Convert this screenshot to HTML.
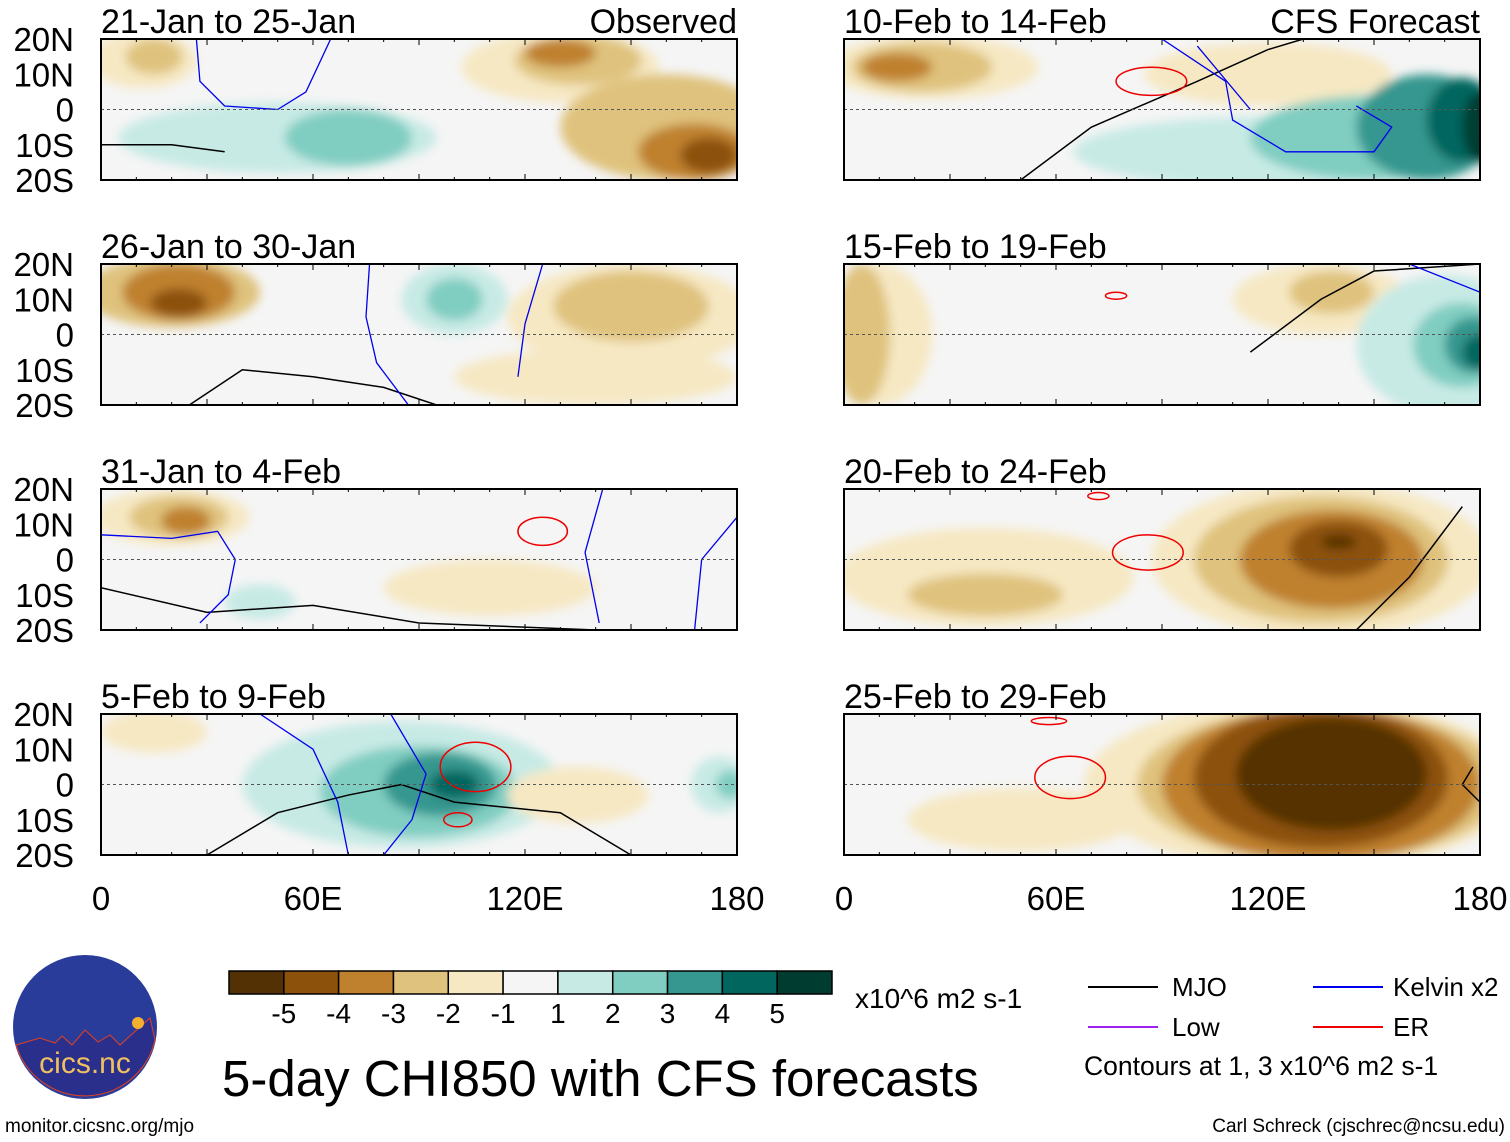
<!DOCTYPE html>
<html><head><meta charset="utf-8">
<style>
html,body{margin:0;padding:0;background:#fff;}
svg{display:block;font-family:"Liberation Sans",sans-serif;}
</style></head>
<body>
<svg id="fig" width="1510" height="1142" viewBox="0 0 1510 1142" xmlns="http://www.w3.org/2000/svg">
<defs>
<filter id="blur" x="-50%" y="-50%" width="200%" height="200%"><feGaussianBlur stdDeviation="5"/></filter>
</defs>
<g id="panels"></g>
<g id="colorbar"></g>
<text x="855" y="1008" font-size="28">x10^6 m2 s-1</text>
<text x="222" y="1096" font-size="51">5-day CHI850 with CFS forecasts</text>
<g>
<line x1="1088" y1="987" x2="1158" y2="987" stroke="#000" stroke-width="2"/>
<text x="1172" y="996" font-size="26">MJO</text>
<line x1="1313" y1="987" x2="1383" y2="987" stroke="#0000ee" stroke-width="2"/>
<text x="1393" y="996" font-size="26">Kelvin x2</text>
<line x1="1088" y1="1027" x2="1158" y2="1027" stroke="#a020f0" stroke-width="2"/>
<text x="1172" y="1036" font-size="26">Low</text>
<line x1="1313" y1="1027" x2="1383" y2="1027" stroke="#ee0000" stroke-width="2"/>
<text x="1393" y="1036" font-size="26">ER</text>
<text x="1084" y="1075" font-size="26.5">Contours at 1, 3 x10^6 m2 s-1</text>
</g>
<g>
<circle cx="85" cy="1027" r="72" fill="#2a3c9a"/>
<path d="M16,1045 L40,1038 L55,1043 L62,1036 L72,1045 L85,1030 L98,1042 L110,1035 L120,1045 L150,1018 L155,1040 A72,72 0 0 1 16,1045 Z" fill="#2a2f8c" stroke="#e04020" stroke-width="1"/>
<circle cx="138" cy="1023" r="6" fill="#f5b030"/>
<text x="85" y="1073" font-size="30" fill="#f0c060" text-anchor="middle">cics.nc</text>
</g>
<text x="5" y="1132" font-size="19">monitor.cicsnc.org/mjo</text>
<text x="1505" y="1132" font-size="19" text-anchor="end">Carl Schreck (cjschrec@ncsu.edu)</text>
</svg>
<script>
// Colorbar data
const levelLabels = ["-5","-4","-3","-2","-1","1","2","3","4","5"];
const levelColors = ["#543005","#8c510a","#bf812d","#dfc27d","#f6e8c3","#f5f5f5","#c7eae5","#80cdc1","#35978f","#01665e","#003c30"];
const latTicks = ["20N","10N","0","10S","20S"];
const latTickVals = [20,10,0,-10,-20];
const lonTicks = ["0","60E","120E","180"];
const lonTickVals = [0,60,120,180];
const panelTitles = ["21-Jan to 25-Jan","26-Jan to 30-Jan","31-Jan to 4-Feb","5-Feb to 9-Feb","10-Feb to 14-Feb","15-Feb to 19-Feb","20-Feb to 24-Feb","25-Feb to 29-Feb"];
// anomaly blobs per panel: [lon, lat, halfwidthDeg, halfheightDeg, value]
const anomP1 = [[12,14,15,8,-1],[15,15,8,5,-2],[50,-8,45,10,1],[70,-8,18,8,2],[130,12,28,10,-1],[135,14,18,7,-2],[130,16,10,4,-3],[160,-5,30,15,-2],[168,-12,16,8,-3],[172,-13,8,5,-4]];
const anomP2 = [[20,12,25,10,-2],[22,12,16,8,-3],[22,9,8,4,-4],[100,10,15,10,1],[100,10,8,6,2],[150,5,35,15,-1],[150,8,22,10,-2],[140,-12,40,8,-1]];
const anomP3 = [[20,12,22,8,-1],[22,12,14,6,-2],[24,11,7,4,-3],[45,-12,10,5,1],[110,-8,30,8,-1]];
const anomP4 = [[15,15,15,6,-1],[85,0,45,18,1],[90,-2,28,13,2],[96,0,16,9,3],[100,0,7,4,4],[135,-3,20,8,-1],[175,0,8,8,1],[178,0,4,4,2]];
const anomP5 = [[25,12,30,9,-1],[22,12,20,7,-2],[15,12,10,4,-3],[120,10,35,9,-1],[120,-12,55,10,1],[150,-8,35,12,2],[165,-5,20,15,3],[175,-3,10,12,4],[180,-5,5,10,5]];
const anomP6 = [[10,0,15,20,-1],[5,0,8,20,-2],[135,10,25,10,-1],[138,12,12,6,-2],[170,-3,25,20,1],[175,-3,14,12,2],[178,-3,8,8,3],[180,-5,5,5,4]];
const anomP7 = [[40,-5,42,14,-1],[40,-10,22,6,-2],[135,0,48,22,-1],[135,0,36,18,-2],[138,0,26,14,-3],[140,3,14,8,-4],[140,5,5,2,-5]];
const anomP8 = [[50,-10,32,9,-1],[130,0,62,24,-1],[135,0,52,22,-2],[135,0,45,22,-3],[135,2,36,20,-4],[138,3,27,16,-5]];
const panelAnoms = [anomP1,anomP2,anomP3,anomP4,anomP5,anomP6,anomP7,anomP8];
// MJO contour paths per panel: [lon, lat] points
const mjoLines = [
 [[0,-10],[20,-10],[35,-12]],
 [[25,-20],[40,-10],[60,-12],[80,-15],[95,-20]],
 [[0,-8],[30,-15],[60,-13],[90,-18],[140,-20]],
 [[30,-20],[50,-8],[70,-3],[85,0],[100,-5],[130,-8],[150,-20]],
 [[50,-20],[70,-5],[100,8],[120,17],[130,20]],
 [[115,-5],[135,10],[150,18],[180,20]],
 [[145,-20],[160,-5],[175,15]],
 [[180,-5],[175,0],[178,5]]
];
// Kelvin contour paths per panel
const kelvinLines = [
 [[[27,20],[28,8],[35,1],[50,0],[58,5],[65,20]]],
 [[[76,20],[75,5],[78,-8],[87,-20]],[[125,20],[120,3],[118,-12]]],
 [[[0,7],[20,6],[33,8],[38,0],[36,-10],[28,-18]],[[142,20],[137,2],[141,-18]],[[180,12],[170,0],[168,-20]]],
 [[[45,20],[60,10],[67,-5],[70,-20]],[[82,20],[92,3],[88,-10],[80,-20]]],
 [[[90,20],[108,8],[110,-3],[125,-12],[150,-12],[155,-5],[145,1]],[[100,18],[115,0]]],
 [[[160,20],[180,12]]],
 [],
 []
];
// ER contour ellipses per panel: [lon, lat, halfwidthDeg, halfheightDeg]
const erRings = [
 [],[],
 [[125,8,7,4]],
 [[106,5,10,7],[101,-10,4,2]],
 [[87,8,10,4]],
 [[77,11,3,1]],
 [[86,2,10,5],[72,18,3,1]],
 [[64,2,10,6],[58,18,5,1]]
];

function colorFor(v){ const idx = v<0 ? Math.max(0,5+v) : Math.min(10,5+v); return levelColors[idx]; }
const W=636,H=141;
const panelPos=[[101,39],[101,264],[101,489],[101,714],[844,39],[844,264],[844,489],[844,714]];
const NS="http://www.w3.org/2000/svg";
function mk(tag,attrs,parent){const e=document.createElementNS(NS,tag);for(const k in attrs)e.setAttribute(k,attrs[k]);if(parent)parent.appendChild(e);return e;}
const root=document.getElementById('panels');
panelPos.forEach((p,i)=>{
  const [x0,y0]=p;
  const xs=lon=>x0+lon/180*W;
  const ys=lat=>y0+(20-lat)/40*H;
  const g=mk('g',{},root);
  
  
  const cp=mk('clipPath',{id:'cp'+i},g);
  mk('rect',{x:x0,y:y0,width:W,height:H},cp);
  const bg=mk('rect',{x:x0,y:y0,width:W,height:H,fill:'#f5f5f5'},g);
  
  
  const fg=mk('g',{'clip-path':'url(#cp'+i+')'},g);
  const bl=mk('g',{filter:'url(#blur)'},fg);
  panelAnoms[i].forEach(a=>{
    const e=mk('ellipse',{cx:xs(a[0]),cy:ys(a[1]),rx:a[2]/180*W,ry:a[3]/40*H,fill:colorFor(a[4])},bl);
    
    
  });
  const pts=mjoLines[i].map(q=>xs(q[0])+','+ys(q[1])).join(' ');
  const ml=mk('polyline',{points:pts,fill:'none',stroke:'#000','stroke-width':1.5},fg);
  
  
  kelvinLines[i].forEach(line=>{
    const kl=mk('polyline',{points:line.map(q=>xs(q[0])+','+ys(q[1])).join(' '),fill:'none',stroke:'#0000ee','stroke-width':1.3},fg);
    
    
  });
  erRings[i].forEach(r=>{
    const er=mk('ellipse',{cx:xs(r[0]),cy:ys(r[1]),rx:r[2]/180*W,ry:r[3]/40*H,fill:'none',stroke:'#ee0000','stroke-width':1.5},fg);
    
    
  });
  const eq=mk('line',{x1:x0,y1:ys(0),x2:x0+W,y2:ys(0),stroke:'#555','stroke-dasharray':'3,3','stroke-width':1},g);
  
  
  const fr=mk('rect',{x:x0,y:y0,width:W,height:H,fill:'none',stroke:'#000','stroke-width':2},g);
  
  
  for(let l=0;l<=180;l+=10){
    const len=(l%30===0)?6:3;
    mk('line',{x1:xs(l),y1:y0+H,x2:xs(l),y2:y0+H-len,stroke:'#000'},g);
    mk('line',{x1:xs(l),y1:y0,x2:xs(l),y2:y0+len,stroke:'#000'},g);
  }
  const t=mk('text',{x:x0,y:y0-6,'font-size':34},g);
  t.textContent=panelTitles[i];
  
  
  if(i<4){
    latTicks.forEach((lab,k)=>{
      const tt=mk('text',{x:74,y:ys(latTickVals[k])+12,'font-size':33,'text-anchor':'end'},g);
      tt.textContent=lab;
      
      
    });
  }
  if(i===0||i===4){
    const tt=mk('text',{x:x0+W,y:y0-6,'font-size':34,'text-anchor':'end'},g);
    tt.textContent=i===0?'Observed':'CFS Forecast';
    
    
  }
  if(i===3||i===7){
    lonTicks.forEach((lab,k)=>{
      const tt=mk('text',{x:xs(lonTickVals[k]),y:910,'font-size':33,'text-anchor':'middle'},g);
      tt.textContent=lab;
      
      
    });
  }
});
// colorbar
const cb=document.getElementById('colorbar');
const cbX=229,cbW=603,cbY=971,cbH=23,bw=cbW/levelColors.length;
levelColors.forEach((c,k)=>{
  const r=mk('rect',{x:cbX+k*bw,y:cbY,width:bw,height:cbH,fill:c,stroke:'#000','stroke-width':1.5},cb);
  
  
});
levelLabels.forEach((lab,k)=>{
  const t=mk('text',{x:cbX+(k+1)*bw,y:1023,'font-size':28,'text-anchor':'middle'},cb);
  t.textContent=lab;
  
  
});
</script>
</body></html>
